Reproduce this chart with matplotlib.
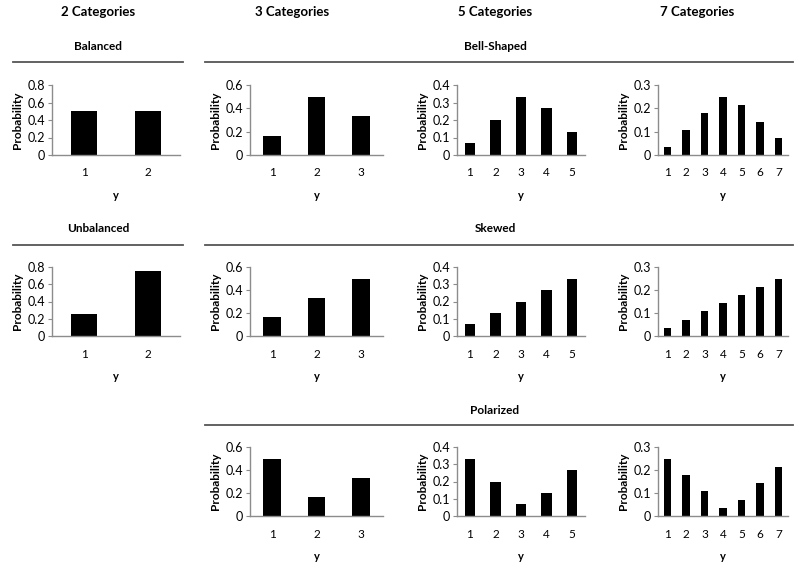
import numpy as np
import matplotlib.pyplot as plt

plt.rcParams['font.family'] = ['Lato', 'DejaVu Sans']

# probabilities
balanced_2 = [0.5, 0.5]
unbalanced_2 = [0.25, 0.75]
bell_3 = [0.167, 0.5, 0.333]
bell_5 = [0.067, 0.2, 0.333, 0.267, 0.133]
bell_7 = [0.036, 0.107, 0.179, 0.25, 0.214, 0.143, 0.071]
skew_3 = [0.167, 0.333, 0.5]
skew_5 = [0.067, 0.133, 0.2, 0.267, 0.333]
skew_7 = [0.036, 0.071, 0.107, 0.143, 0.179, 0.214, 0.25]
polar_3 = [0.5, 0.167, 0.333]
polar_5 = [0.333, 0.2, 0.067, 0.133, 0.267]
polar_7 = [0.25, 0.179, 0.107, 0.036, 0.071, 0.143, 0.214]

col_titles = ['2 Categories', '3 Categories', '5 Categories', '7 Categories']
ymax = {2: 0.8, 3: 0.6, 5: 0.4, 7: 0.3}
ystep = {2: 0.2, 3: 0.2, 5: 0.1, 7: 0.1}

W, H = 800, 568
fig = plt.figure(figsize=(W / 100, H / 100), dpi=100)

# pixel layout
col_x = {2: (52, 180), 3: (250, 383), 5: (457, 585), 7: (658, 788)}
row_y = [(85, 155), (267, 336), (447, 516)]


def panel(vals, n, row):
    x0, x1 = col_x[n]
    y0, y1 = row_y[row]
    ax = fig.add_axes([x0 / W, 1 - y1 / H, (x1 - x0) / W, (y1 - y0) / H])
    cats = np.arange(1, n + 1)
    ax.bar(cats, vals, width=0.4, color='black')
    ax.set_xlim(0.5, n + 0.5)
    ax.set_ylim(0, ymax[n])
    ticks = np.arange(0, ymax[n] + 1e-9, ystep[n])
    ax.set_yticks(ticks)
    ax.set_yticklabels(['0' if t == 0 else f'{t:.1f}' for t in ticks])
    ax.set_xticks(cats)
    ax.set_xticklabels([str(c) for c in cats])
    for s in ['top', 'right']:
        ax.spines[s].set_visible(False)
    for s in ['left', 'bottom']:
        ax.spines[s].set_color('#8c8c8c')
        ax.spines[s].set_linewidth(1.0)
    ax.tick_params(axis='y', length=3, color='#8c8c8c', labelsize=9, pad=2)
    ax.tick_params(axis='x', length=0, labelsize=8.5, pad=9)
    ax.set_ylabel('Probability', fontsize=8.5, fontweight='bold', labelpad=3)
    ax.set_xlabel('y', fontsize=8, fontweight='bold', labelpad=8)
    return ax


def header(text, xc, y, x0, x1, ly):
    fig.text(xc / W, 1 - y / H, text, ha='center', va='center',
             fontsize=8.5, fontweight='bold')
    fig.add_artist(plt.Line2D([x0 / W, x1 / W], [1 - ly / H, 1 - ly / H],
                              color='#555555', linewidth=1.3))


# column headings
for t, xc in zip(col_titles, [98, 292, 495, 697]):
    fig.text(xc / W, 1 - 12 / H, t, ha='center', va='center',
             fontsize=9.5, fontweight='bold')

header('Balanced', 98, 46, 13, 183, 62)
header('Bell-Shaped', 495, 46, 205, 793, 62)
header('Unbalanced', 98, 229, 13, 183, 245)
header('Skewed', 495, 229, 205, 793, 245)
header('Polarized', 495, 411, 205, 793, 425)

panel(balanced_2, 2, 0)
panel(bell_3, 3, 0)
panel(bell_5, 5, 0)
panel(bell_7, 7, 0)
panel(unbalanced_2, 2, 1)
panel(skew_3, 3, 1)
panel(skew_5, 5, 1)
panel(skew_7, 7, 1)
panel(polar_3, 3, 2)
panel(polar_5, 5, 2)
panel(polar_7, 7, 2)

fig.savefig('out.png', dpi=100)
